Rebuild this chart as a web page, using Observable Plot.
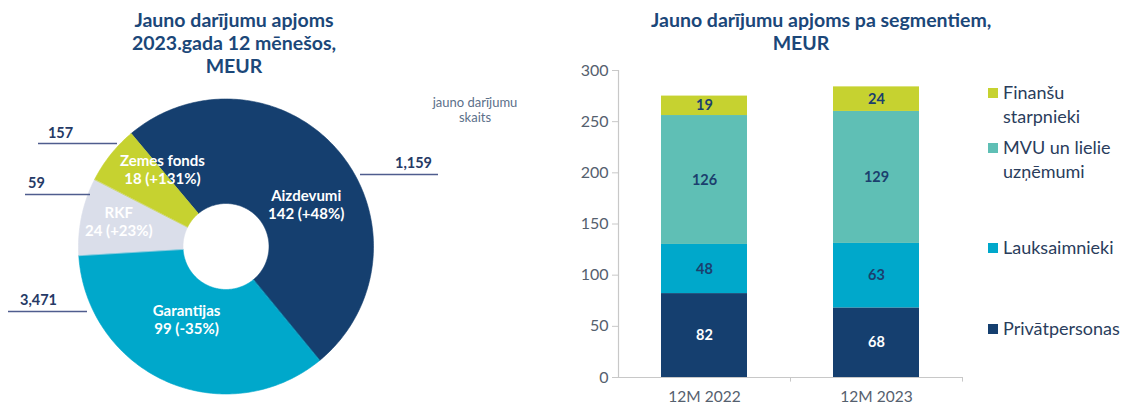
<!DOCTYPE html>
<html><head><meta charset="utf-8">
<script src="https://cdn.jsdelivr.net/npm/d3@7"></script>
<script src="https://cdn.jsdelivr.net/npm/@observablehq/plot@0.6"></script>
<style>
body{margin:0;background:#fff;font-family:Lato,"Open Sans",sans-serif;}
#root{position:relative;width:1126px;height:404px;overflow:hidden;background:#fff;}
.title{position:absolute;text-align:center;font-weight:700;color:#1b4779;font-size:19.5px;line-height:23px;white-space:nowrap;}
.note{position:absolute;text-align:center;color:#5b6f8a;font-size:13px;line-height:15px;white-space:nowrap;}
.leg{position:absolute;left:988px;color:#2a3d5c;font-size:18px;line-height:24px;white-space:nowrap;}
.leg .sw{display:inline-block;width:10px;height:10px;margin-right:5px;vertical-align:1px;}
.leg .ind{padding-left:15px;}
svg{position:absolute;}
</style></head><body><div id="root"></div>
<script>
// ---------- DATA ----------
const donutCategories = ["Aizdevumi", "Garantijas", "RKF", "Zemes fonds"];
const donutValues = [142, 99, 24, 18];
const donutChanges = ["+48%", "-35%", "+23%", "+131%"];
const dealCounts = ["1,159", "3,471", "59", "157"];

const periods = ["12M 2022", "12M 2023"];
const segments = ["Privātpersonas", "Lauksaimnieki", "MVU un lielie uzņēmumi", "Finanšu starpnieki"];
const values2022 = [82, 48, 126, 19];
const values2023 = [68, 63, 129, 24];
const yTicks = [0, 50, 100, 150, 200, 250, 300];

// ---------- STYLE / LAYOUT ----------
const donutColors = ["#153f6f", "#00a8cb", "#dadeea", "#c6d230"];
const segColors = ["#153f6f", "#00a8cb", "#5fbfb5", "#c6d230"];
const R = 147.5, r0 = 43;
const startDeg = -40;
// label placement (polar, degrees clockwise from top, radius in px)
const labelPolar = [{a: 63, r: 90}, {a: 208, r: 84}, {a: 283, r: 110}, {a: 320, r: 99}];
// outer count label placement relative to donut centre (px, y up)
const countPos = [
  {tx: 187.5, ty: 83, x1: 134.5, x2: 212.5, ly: 72},
  {tx: -187.5, ty: -54, x1: -217.5, x2: -138.5, ly: -65},
  {tx: -189.5, ty: 63, x1: -200.5, x2: -135.5, ly: 52},
  {tx: -165.5, ty: 113, x1: -187.5, x2: -108.5, ly: 103}
];

const root = document.getElementById("root");
const rad = d => d * Math.PI / 180;

// ---------- DONUT ----------
const arcs = d3.pie().sort(null).startAngle(rad(startDeg)).endAngle(rad(startDeg + 360))(donutValues);
const slicePts = arcs.map((a, i) => {
  const pts = [];
  const n = Math.max(8, Math.ceil((a.endAngle - a.startAngle) / rad(1)));
  for (let k = 0; k <= n; k++) {
    const t = a.startAngle + (a.endAngle - a.startAngle) * k / n;
    pts.push({name: donutCategories[i], x: R * Math.sin(t), y: R * Math.cos(t)});
  }
  for (let k = n; k >= 0; k--) {
    const t = a.startAngle + (a.endAngle - a.startAngle) * k / n;
    pts.push({name: donutCategories[i], x: r0 * Math.sin(t), y: r0 * Math.cos(t)});
  }
  return pts;
});
const lineGap = 9; // half of the spacing between the two label lines (px)
const labels = donutCategories.flatMap((c, i) => {
  const p = labelPolar[i];
  const x = p.r * Math.sin(rad(p.a)), y = p.r * Math.cos(rad(p.a));
  return [
    {text: c, x, y: y + lineGap},
    {text: `${donutValues[i]} (${donutChanges[i]})`, x, y: y - lineGap}
  ];
});
const counts = dealCounts.map((c, i) => ({text: c, ...countPos[i]}));

const donut = Plot.plot({
  width: 450, height: 404, margin: 0,
  style: {fontFamily: "Lato, 'Open Sans', sans-serif"},
  x: {domain: [-225.5, 224.5], axis: null},
  y: {domain: [-158, 246], axis: null},
  marks: [
    ...slicePts.map((pts, i) => Plot.line(pts, {x: "x", y: "y", fill: donutColors[i], stroke: donutColors[i], strokeWidth: 0.6, curve: "linear-closed"})),
    Plot.text(labels, {x: "x", y: "y", text: "text", fill: "white", fontSize: 15, fontWeight: 700}),
    Plot.ruleY(counts, {y: "ly", x1: "x1", x2: "x2", stroke: "#4f5d8e", strokeWidth: 1.3}),
    Plot.text(counts, {x: "tx", y: "ty", text: "text", fill: "#253a66", fontSize: 14.5, fontWeight: 700})
  ]
});
donut.style.left = "0px"; donut.style.top = "0px";
root.appendChild(donut);

// ---------- STACKED BARS ----------
const barData = periods.flatMap((p, pi) => segments.map((s, si) => ({period: p, segment: s, value: (pi === 0 ? values2022 : values2023)[si]})));
const W = 410, ML = 58, MR = 8;
const step = (W - ML - MR) / periods.length;
const isDark = d => d.segment === segments[0];
const bars = Plot.plot({
  width: W, height: 354, marginTop: 15, marginBottom: 32, marginLeft: ML, marginRight: MR,
  style: {fontFamily: "Lato, 'Open Sans', sans-serif"},
  x: {domain: periods, paddingInner: 0.5, paddingOuter: 0.25, label: null},
  y: {domain: [0, 300], label: null},
  color: {domain: segments, range: segColors},
  marks: [
    Plot.barY(barData, {x: "period", y: "value", fill: "segment"}),
    Plot.ruleY([0], {stroke: "#c8c8c8", strokeWidth: 1.2}),
    Plot.ruleX([periods[0]], {x: d => d, dx: -step / 2, y1: 0, y2: 300, stroke: "#c8c8c8", strokeWidth: 1.2}),
    Plot.ruleX(periods, {x: d => d, dx: step / 2, y1: 0, y2: -4.5, stroke: "#c8c8c8", strokeWidth: 1}),
    Plot.axisY({ticks: yTicks, tickSize: 6, tickPadding: 4, stroke: "#c8c8c8", fill: "#55606e", fontSize: 16, label: null}),
    Plot.axisX({tickSize: 0, tickPadding: 13, fill: "#55606e", fontSize: 15.5, label: null}),
    Plot.text(barData, Plot.stackY({x: "period", y: "value", z: "segment", text: d => isDark(d) ? String(d.value) : "", fill: "white", fontSize: 14.5, fontWeight: 700})),
    Plot.text(barData, Plot.stackY({x: "period", y: "value", z: "segment", text: d => isDark(d) ? "" : String(d.value), fill: "#1b3f6e", fontSize: 14.5, fontWeight: 700}))
  ]
});
bars.style.left = "560px"; bars.style.top = "55px";
root.appendChild(bars);

// ---------- TITLES / NOTES / LEGEND ----------
function addDiv(cls, html, css) { const d = document.createElement("div"); d.className = cls; d.innerHTML = html; Object.assign(d.style, css); root.appendChild(d); return d; }
addDiv("title", "Jauno darījumu apjoms<br>2023.gada 12 mēnešos,<br>MEUR", {left: "84px", width: "300px", top: "8px"});
addDiv("title", "Jauno darījumu apjoms pa segmentiem,<br>MEUR", {left: "651px", width: "300px", top: "8px"});
addDiv("note", "jauno darījumu<br>skaits", {left: "415px", width: "120px", top: "95px"});

const legendLines = [["Finanšu", "starpnieki"], ["MVU un lielie", "uzņēmumi"], ["Lauksaimnieki"], ["Privātpersonas"]];
const legendSeg = [3, 2, 1, 0];
const legendTop = [80, 135, 235, 316];
legendLines.forEach((lines, k) => {
  const html = `<div><span class="sw" style="background:${segColors[legendSeg[k]]}"></span>${lines[0]}</div>` + (lines[1] ? `<div class="ind">${lines[1]}</div>` : "");
  addDiv("leg", html, {top: legendTop[k] + "px"});
});
</script>
</body></html>
